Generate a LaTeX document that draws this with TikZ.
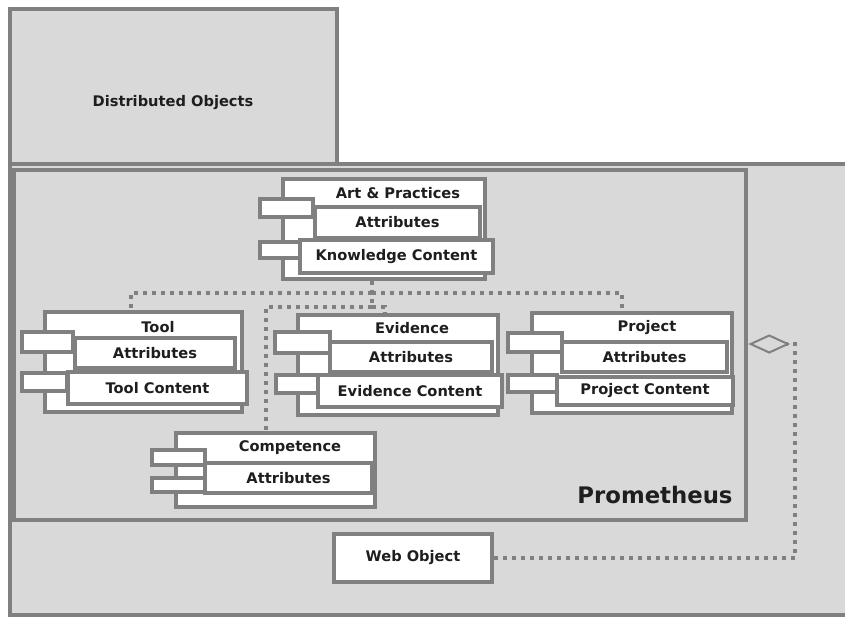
\documentclass[tikz,border=0pt]{standalone}
\usepackage{fontspec}
\setmainfont{DejaVu Sans}
\usetikzlibrary{fit,calc,arrows.meta}
\definecolor{boxgray}{HTML}{D9D9D9}
\definecolor{linegray}{HTML}{808080}
\definecolor{textgray}{HTML}{1E1E1E}
\begin{document}
\begin{tikzpicture}[x=0.025cm,y=-0.025cm,
  frame/.style={draw=linegray, line width=0.11cm, fill=boxgray, inner sep=0pt},
  part/.style={draw=linegray, line width=0.085cm, fill=white, inner sep=0pt},
  lbl/.style={font=\fontsize{10.4}{12}\selectfont\bfseries, text=textgray},
  link/.style={draw=linegray, line width=0.1cm, dash pattern=on 0.1cm off 0.125cm}]
\useasboundingbox (0,0) rectangle (845,618);

% Drawing outer region
\fill[boxgray] (10,164) rectangle (850,615);
\draw[linegray, line width=0.11cm] (850,164) -- (10,164) -- (10,615) -- (850,615);

% Drawing Distributed Objects
\node[frame, fit={(10,9) (337,164)}] (dist) {};
\node[lbl] (dist-name) at (173,103) {Distributed Objects};

% Drawing Prometheus
\node[frame, fit={(14,170) (746,520)}] (prom) {};
\node[lbl, font=\fontsize{16.2}{19}\selectfont\bfseries] (prom-name) at (655,495) {Prometheus};

% Drawing component Art & Practices
\node[part, fit={(283,179) (485,279)}] (art) {};
\node[part, fit={(260,199) (313,217)}] (art-tab1) {};
\node[part, fit={(260,242) (300,258)}] (art-tab2) {};
\node[part, fit={(315,207) (480,238)}] (art-attr) {};
\node[part, fit={(300,240) (493,273)}] (art-cont) {};
\node[lbl] (art-name) at (398,193) {Art \& Practices};
\node[lbl] (art-attr-txt) at (art-attr) {Attributes};
\node[lbl] (art-cont-txt) at (art-cont) {Knowledge Content};

% Drawing component Tool
\node[part, fit={(45,312) (242,412)}] (tool) {};
\node[part, fit={(22,332) (73,352)}] (tool-tab1) {};
\node[part, fit={(22,373) (67,391)}] (tool-tab2) {};
\node[part, fit={(75,338) (235,368)}] (tool-attr) {};
\node[part, fit={(68,372) (247,404)}] (tool-cont) {};
\node[lbl] (tool-name) at (158,327) {Tool};
\node[lbl] (tool-attr-txt) at (tool-attr) {Attributes};
\node[lbl] (tool-cont-txt) at (tool-cont) {Tool Content};

% Drawing component Evidence
\node[part, fit={(298,315) (498,415)}] (evid) {};
\node[part, fit={(275,332) (330,353)}] (evid-tab1) {};
\node[part, fit={(276,375) (318,393)}] (evid-tab2) {};
\node[part, fit={(330,342) (492,372)}] (evid-attr) {};
\node[part, fit={(318,375) (502,407)}] (evid-cont) {};
\node[lbl] (evid-name) at (412,328) {Evidence};
\node[lbl] (evid-attr-txt) at (evid-attr) {Attributes};
\node[lbl] (evid-cont-txt) at (evid-cont) {Evidence Content};

% Drawing component Project
\node[part, fit={(532,313) (732,413)}] (proj) {};
\node[part, fit={(508,333) (562,352)}] (proj-tab1) {};
\node[part, fit={(508,375) (557,392)}] (proj-tab2) {};
\node[part, fit={(562,342) (727,372)}] (proj-attr) {};
\node[part, fit={(557,377) (733,405)}] (proj-cont) {};
\node[lbl] (proj-name) at (647,328) {Project};
\node[lbl] (proj-attr-txt) at (proj-attr) {Attributes};
\node[lbl] (proj-cont-txt) at (proj-cont) {Project Content};

% Drawing component Competence
\node[part, fit={(176,433) (375,507)}] (comp) {};
\node[part, fit={(152,450) (205,465)}] (comp-tab1) {};
\node[part, fit={(152,478) (205,492)}] (comp-tab2) {};
\node[part, fit={(205,463) (372,493)}] (comp-attr) {};
\node[lbl] (comp-name) at (290,448) {Competence};
\node[lbl] (comp-attr-txt) at (comp-attr) {Attributes};

% Drawing Web Object
\node[part, fit={(334,534) (492,582)}] (web) {};
\node[lbl] (web-txt) at (web) {Web Object};

% Drawing links
\coordinate (hub) at (372,293);
\coordinate (hub2) at (372,307);
\coordinate (bend) at (795,344);
\draw[link] (art.south -| hub) -- (hub2);
\draw[link] (hub) -| ($(tool.north)+(-13,0)$);
\draw[link] (hub) -| ($(proj.north)+(-10,0)$);
\draw[link] (hub2) -| ($(evid.north)+(-13,0)$);
\draw[link] (hub2) -| ($(comp.north)+(-10,0)$);
\draw[link, -{Diamond[open, length=1.05cm, width=0.48cm, line width=0.05cm]}]
  (web.east) -| (bend) -- (bend -| prom.east);
\end{tikzpicture}
\end{document}
